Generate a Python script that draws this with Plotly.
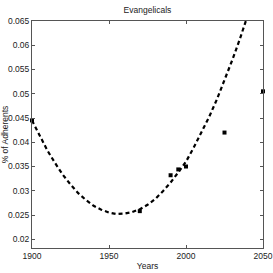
import plotly.graph_objects as go

# Observed data points
years = [1900, 1970, 1990, 1995, 2000, 2025, 2050]
share = [0.0445, 0.0258, 0.0332, 0.0344, 0.0350, 0.0420, 0.0505]

# Fitted trend curve
fit_years = [1900, 1905, 1910, 1915, 1920, 1925, 1930, 1935, 1940, 1945, 1950, 1955,
             1960, 1965, 1970, 1975, 1980, 1985, 1990, 1995, 2000, 2005, 2010, 2015,
             2020, 2025, 2030, 2035, 2040]
fit_share = [0.0445, 0.0413, 0.0383, 0.0357, 0.0333, 0.0313, 0.0295, 0.0281, 0.0269,
             0.0261, 0.0255, 0.0252, 0.0253, 0.0256, 0.0262, 0.0271, 0.0283, 0.0299,
             0.0317, 0.0338, 0.0360, 0.0389, 0.0419, 0.0452, 0.0488, 0.0527, 0.0569,
             0.0613, 0.0661]

x_ticks = [1900, 1950, 2000, 2050]
y_ticks = [0.02, 0.025, 0.03, 0.035, 0.04, 0.045, 0.05, 0.055, 0.06, 0.065]
y_labels = ["0.02", "0.025", "0.03", "0.035", "0.04", "0.045", "0.05", "0.055", "0.06", "0.065"]

FONT = "Liberation Sans, Arial, sans-serif"

def f(size):
    return dict(size=size, color="#222222", family=FONT)

fig = go.Figure()
fig.add_trace(go.Scatter(x=fit_years, y=fit_share, mode="lines",
                         line=dict(color="black", width=2.2, dash="4px,3px"),
                         hoverinfo="skip"))
fig.add_trace(go.Scatter(x=years, y=share, mode="markers",
                         marker=dict(symbol="square", size=4, color="black"),
                         cliponaxis=False))

axis_common = dict(showgrid=False, zeroline=False, showline=True, linecolor="#555555",
                   linewidth=1, mirror="ticks", ticks="inside", ticklen=3,
                   tickcolor="#555555", tickfont=f(8.5), automargin=False)
fig.update_layout(
    width=273, height=273, autosize=False,
    margin=dict(l=32, r=10, t=21, b=25, pad=0, autoexpand=False),
    paper_bgcolor="white", plot_bgcolor="white",
    showlegend=False,
    title=dict(text="Evangelicals", x=0.54, xanchor="center", y=0.962, yanchor="middle",
               font=f(8.5), automargin=False),
    xaxis=dict(range=[1900, 2050], tickvals=x_ticks,
               title=dict(text="Years", font=f(8.5), standoff=2),
               **axis_common),
    yaxis=dict(range=[0.0182, 0.065], tickvals=y_ticks, ticktext=y_labels,
               title=dict(text="% of Adherents", font=f(8.5), standoff=2),
               **axis_common),
)
fig.write_html("out.html", config={"displayModeBar": False},
               post_script="document.body.style.margin='0';document.body.style.overflow='hidden';")
